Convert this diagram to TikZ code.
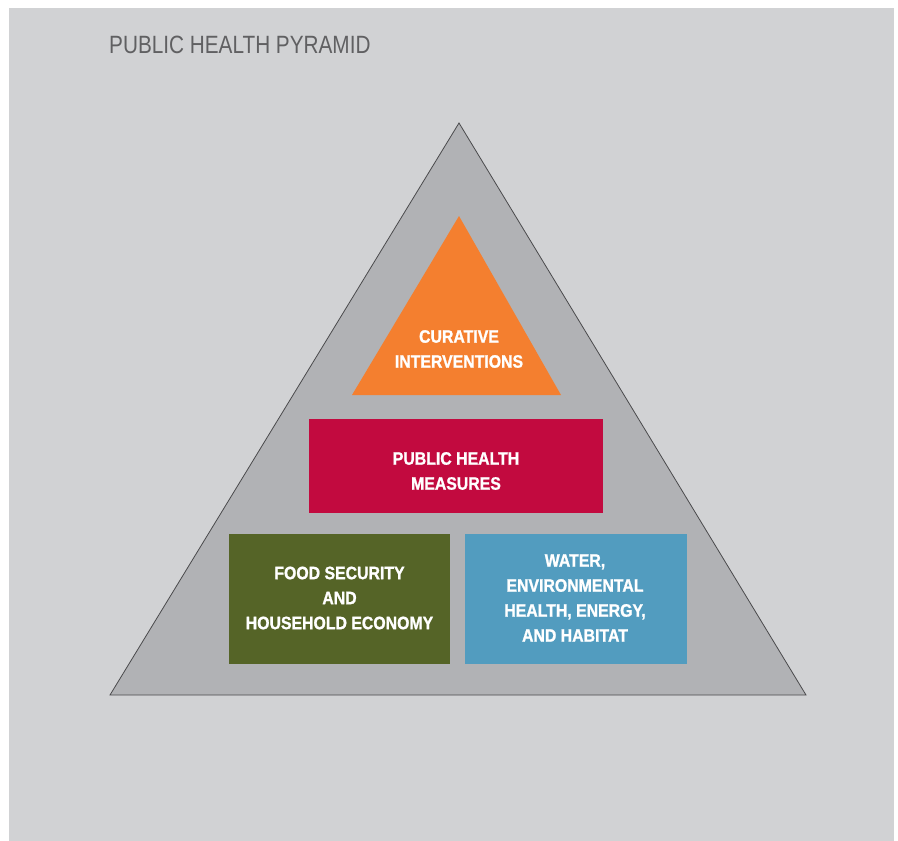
\documentclass[tikz,border=0pt]{standalone}
\usepackage{fontspec}
\setmainfont{Liberation Sans}
\newfontfamily\titlefont{Liberation Sans}[FakeStretch=0.83]
\newfontfamily\boxfont{Liberation Sans}[FakeStretch=0.88, BoldFeatures={FakeBold=1.2}]
\definecolor{bgc}{HTML}{D1D2D4}
\definecolor{pyr}{HTML}{B1B2B5}
\definecolor{pyrline}{HTML}{4A4A4C}
\definecolor{cur}{HTML}{F47F2F}
\definecolor{phm}{HTML}{C20A3F}
\definecolor{food}{HTML}{556427}
\definecolor{water}{HTML}{529CBF}
\definecolor{titlec}{HTML}{606062}
\tikzset{
  boxtext/.style={text=white, font=\boxfont\bfseries\fontsize{18}{25}\selectfont, align=center, inner sep=0pt},
  block/.style={inner sep=0pt, outer sep=0pt}
}
\begin{document}
\begin{tikzpicture}[x=1pt,y=-1pt]
\useasboundingbox (0,0) rectangle (898,841);
\fill[white] (0,0) rectangle (898,841);
\fill[bgc] (9,8) rectangle (894,841);
\node[anchor=west, text=titlec, font=\titlefont\fontsize{25}{30}\selectfont, inner sep=0pt] (title) at (109,45) {PUBLIC HEALTH PYRAMID};
% outer pyramid
\coordinate (apex) at (459,123);
\coordinate (bl) at (110,695);
\coordinate (br) at (806,695);
\filldraw[fill=pyr, draw=pyrline, line width=0.8pt, line join=miter] (apex) -- (br) -- (bl) -- cycle;
% orange triangle
\coordinate (oapex) at (459,216);
\coordinate (obl) at (352,395);
\coordinate (obr) at (561,395);
\fill[cur] (oapex) -- (obr) -- (obl) -- cycle;
\node[boxtext] (curative) at (459,349) {CURATIVE\\INTERVENTIONS};
% public health measures
\fill[phm] (309,419) rectangle (603,513);
\node[boxtext] (phmt) at (456,471) {PUBLIC HEALTH\\MEASURES};
% food security
\fill[food] (229,534) rectangle (450,664);
\node[boxtext] (foodt) at (339.5,598) {FOOD SECURITY\\AND\\HOUSEHOLD ECONOMY};
% water
\fill[water] (465,534) rectangle (687,664);
\node[boxtext] (watert) at (575,598) {WATER,\\ENVIRONMENTAL\\HEALTH, ENERGY,\\AND HABITAT};
\end{tikzpicture}
\end{document}
